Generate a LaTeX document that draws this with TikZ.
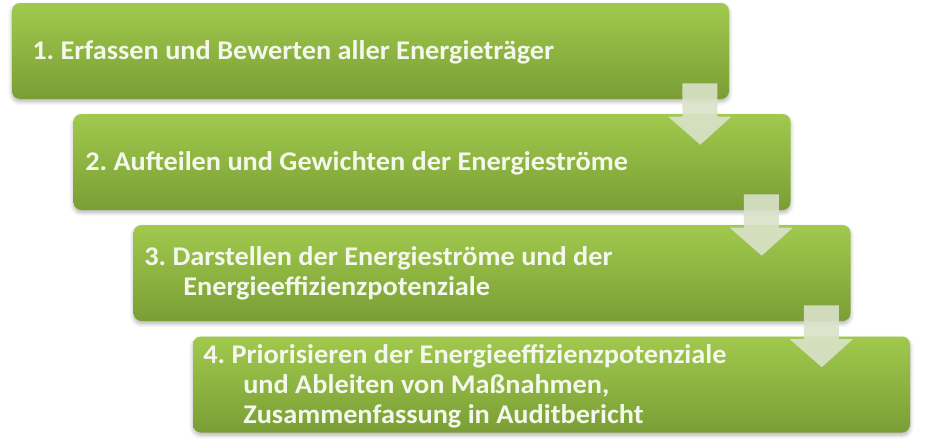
\documentclass[tikz,border=0pt]{standalone}
\usepackage{fontspec}
\setmainfont{Carlito}[FakeStretch=1.048]
\usetikzlibrary{calc,shadows.blur}
\definecolor{gtop}{HTML}{A1C94D}
\definecolor{gbot}{HTML}{7A9E35}
\definecolor{arrcol}{HTML}{D9E2CA}
\definecolor{txtcol}{HTML}{F4F8EC}
\tikzset{
  box/.style={rectangle, rounded corners=6pt, minimum width=537.75pt, minimum height=72pt,
    inner sep=0pt, top color=gtop, bottom color=gbot, draw=none,
    blur shadow={shadow xshift=0pt, shadow yshift=-2pt, shadow blur steps=6, shadow opacity=30, shadow blur radius=3pt}},
  lbl/.style={anchor=base west, inner sep=0pt, text=txtcol,
    font=\fontsize{20.25}{22.5}\selectfont\bfseries\frenchspacing},
  arr/.style={fill=arrcol, fill opacity=0.9}
}
\begin{document}
\begin{tikzpicture}[x=0.75pt,y=-0.75pt]
\useasboundingbox (0,0) rectangle (925,439);
\node[box] (b1) at (370.5,51) {};
\node[box] (b2) at (432,162) {};
\node[box] (b3) at (492,273) {};
\node[box] (b4) at (551.5,384.5) {};
\foreach \a/\b in {b1/b2,b2/b3,b3/b4}{
  \fill[arr] ($(\a.south east)+(-47,-16)$) -- ++(35,0)
    -- ($(\a.east |- \b.north)+(-12,3)$) -- ++(14,0)
    -- ($(\a.east |- \b.north)+(-29,31)$)
    -- ($(\a.east |- \b.north)+(-61,3)$) -- ++(14,0) -- cycle;
}
\node[lbl] (t1) at (32,59) {1. Erfassen und Bewerten aller Energieträger};
\node[lbl] (t2) at (85,170) {2. Aufteilen und Gewichten der Energieströme};
\node[lbl] (t3) at (144,265) {\begin{tabular}[t]{@{}l@{}}3. Darstellen der Energieströme und der\\\hspace*{29.25pt}Energieeffizienzpotenziale\end{tabular}};
\node[lbl] (t4) at (203,363) {\begin{tabular}[t]{@{}l@{}}4. Priorisieren der Energieeffizienzpotenziale\\\hspace*{30pt}und Ableiten von Maßnahmen,\\\hspace*{30pt}Zusammenfassung in Auditbericht\end{tabular}};
\end{tikzpicture}
\end{document}
